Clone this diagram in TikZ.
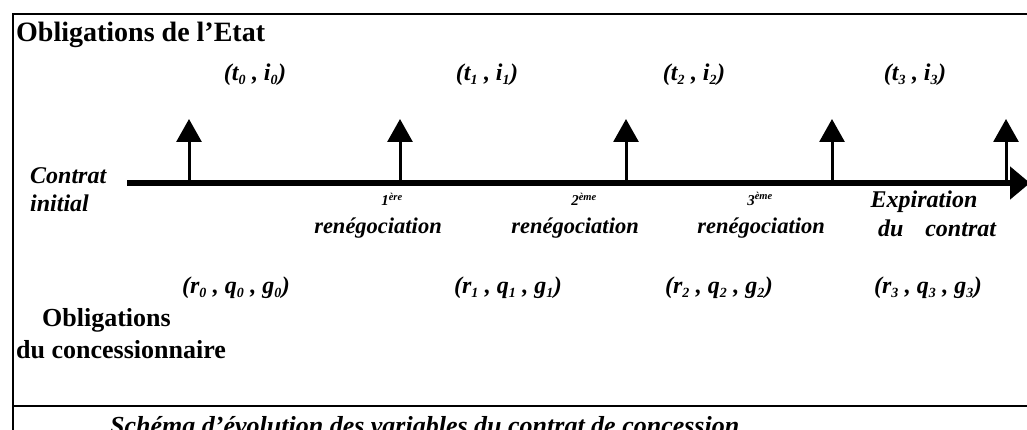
\documentclass[tikz,border=0pt]{standalone}
\usepackage{fontspec}
\setmainfont{Liberation Serif}
\usetikzlibrary{arrows.meta}
\newcommand{\sbs}[1]{\textsubscript{\fontsize{14}{14}\selectfont #1}}
\begin{document}
\begin{tikzpicture}[x=1pt,y=-1pt,
  lbl/.style={font=\fontsize{24}{26}\selectfont\bfseries\itshape, inner sep=0pt},
  reneg/.style={font=\fontsize{22.5}{24}\selectfont\bfseries\itshape, inner sep=0pt},
  sup/.style={font=\fontsize{15}{16}\selectfont\bfseries\itshape, inner sep=0pt},
  head/.style={font=\fontsize{26}{28}\selectfont\bfseries, inner sep=0pt},
  uparrow/.style={line width=3pt, -{Triangle[length=23pt,width=25pt]}},
  mainarrow/.style={line width=6pt, -{Triangle[length=20pt,width=32pt]}}]
\useasboundingbox (0,0) rectangle (1027,430);
\clip (0,0) rectangle (1027,430);
% frame
\draw[line width=1.6pt] (1030,14) -- (13,14) -- (13,432);
\draw[line width=1.6pt] (13,406) -- (1030,406);
% headings
\node[head, anchor=west, font=\fontsize{28}{30}\selectfont\bfseries] (etat) at (16,35) {Obligations de l'Etat};
\node[head, anchor=west] (oblc) at (42,320) {Obligations};
\node[head, anchor=west] (conc) at (16,350) {du concessionnaire};
% main axis
\coordinate (ax0) at (127,183);
\coordinate (ax1) at (1030,183);
\draw[mainarrow] (ax0) -- (ax1);
% up arrows
\foreach \n/\x in {a/189,b/400,c/626,d/832,e/1006}{
  \coordinate (\n0) at (\x,180);
  \coordinate (\n1) at (\x,119);
  \draw[uparrow] (\n0) -- (\n1);
}
% state obligations
\node[lbl] (t0) at (255,75) {(t\sbs{0} , i\sbs{0})};
\node[lbl] (t1) at (487,75) {(t\sbs{1} , i\sbs{1})};
\node[lbl] (t2) at (694,75) {(t\sbs{2} , i\sbs{2})};
\node[lbl] (t3) at (915,75) {(t\sbs{3} , i\sbs{3})};
% timeline labels
\node[lbl, anchor=west] (ci1) at (30,176) {Contrat};
\node[lbl, anchor=west] (ci2) at (30,203) {initial};
\node[sup] (n1) at (392,199) {1\textsuperscript{ère}};
\node[reneg] (r1) at (378,228) {renégociation};
\node[sup] (n2) at (584,199) {2\textsuperscript{ème}};
\node[reneg] (r2) at (575,228) {renégociation};
\node[sup] (n3) at (760,199) {3\textsuperscript{ème}};
\node[reneg] (r3) at (761,228) {renégociation};
\node[lbl] (ex1) at (924,202) {Expiration};
\node[lbl] (ex2) at (937,228) {du\hspace{22pt}contrat};
% concessionnaire obligations
\node[lbl] (g0) at (236,288) {(r\sbs{0} , q\sbs{0} , g\sbs{0})};
\node[lbl] (g1) at (508,288) {(r\sbs{1} , q\sbs{1} , g\sbs{1})};
\node[lbl] (g2) at (719,288) {(r\sbs{2} , q\sbs{2} , g\sbs{2})};
\node[lbl] (g3) at (928,288) {(r\sbs{3} , q\sbs{3} , g\sbs{3})};
% caption
\node[lbl, anchor=west, font=\fontsize{26}{28}\selectfont\bfseries\itshape] (cap) at (110,426) {Schéma d'évolution des variables du contrat de concession};
\end{tikzpicture}
\end{document}
